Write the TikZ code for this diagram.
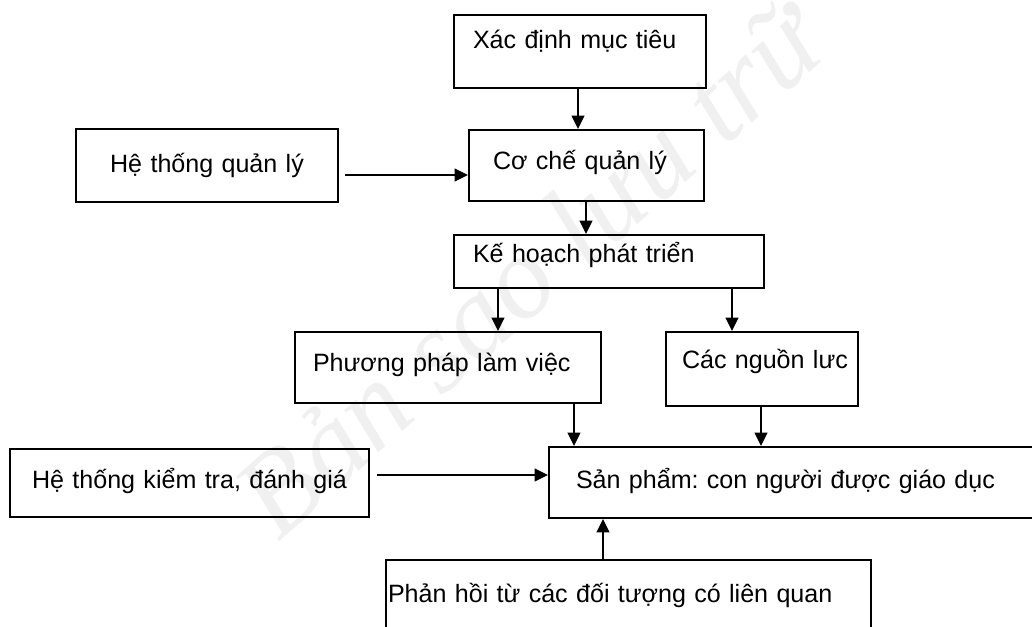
\documentclass[tikz,border=0pt]{standalone}
\usepackage{fontspec}
\setmainfont{Liberation Sans}
\newfontfamily\markfont{Liberation Serif}
\usepackage{tikz}
\usetikzlibrary{
    arrows.meta,
    positioning
}
\frenchspacing

\tikzset{
    box/.style={draw, line width=1.5pt, anchor=north west, inner sep=0pt,
        align=left, font=\fontsize{18.8pt}{22pt}\selectfont},
    pad/.style={execute at begin node={\hspace*{#1}}},
    arr/.style={line width=1.3pt, -{Triangle[length=10pt,width=9.5pt]}}
}

\begin{document}
\begin{tikzpicture}[x=0.75pt,y=-0.75pt]

\path[use as bounding box, clip] (0,0) rectangle (1032,626);
\fill[white] (0,0) rectangle (1032,626);

% watermark
\node[rotate=41.5, text=black!6, font=\markfont\itshape\fontsize{88pt}{90pt}\selectfont]
    (mark) at (528,268) {Bản sao lưu trữ};

% boxes
\node[box, pad=14.25pt, text width=189pt, text height=24.75pt, text depth=30pt]
    (goal) at (453,14) {Xác định mục tiêu};
\node[box, align=center, text width=196.5pt, text height=32.25pt, text depth=22.5pt]
    (hsys) at (75,128) {Hệ thống quản lý};
\node[box, pad=18pt, text width=176.25pt, text height=29.25pt, text depth=24pt]
    (mech) at (468,129) {Cơ chế quản lý};
\node[box, pad=14.25pt, text width=232.5pt, text height=20.25pt, text depth=19.5pt]
    (plan) at (453,234) {Kế hoạch phát triển};
\node[box, pad=13.5pt, text width=229.5pt, text height=29.25pt, text depth=24pt]
    (meth) at (294,331) {Phương pháp làm việc};
\node[box, pad=12pt, text width=144pt, text height=27pt, text depth=28.5pt]
    (res) at (665,331) {Các nguồn lưc};
\node[box, pad=20.25pt, text width=375pt, text height=30.75pt, text depth=22.5pt]
    (prod) at (548,446) {Sản phẩm: con người được giáo dục};
\node[box, align=center, text width=269.25pt, text height=29.25pt, text depth=21.75pt]
    (check) at (9,448) {Hệ thống kiểm tra, đánh giá};
\node[box, pad=1.5pt, text width=363.75pt, text height=31.5pt, text depth=45pt]
    (fb) at (385,559) {Phản hồi từ các đối tượng có liên quan};

% arrow columns and rows
\coordinate (xa) at (578,0);
\coordinate (xb) at (586,0);
\coordinate (xc) at (498,0);
\coordinate (xd) at (732,0);
\coordinate (xe) at (574,0);
\coordinate (xf) at (761,0);
\coordinate (xg) at (603,0);
\coordinate (ya) at (0,175);
\coordinate (yb) at (0,475);

% arrows
\foreach \a/\b/\c in {goal/mech/xa, mech/plan/xb, plan/meth/xc,
                      plan/res/xd, meth/prod/xe, res/prod/xf}{
    \draw[arr] (\a.south -| \c) -- (\b.north -| \c);
}
\draw[arr] (fb.north -| xg) -- (prod.south -| xg);
\draw[arr, shorten <=4.5pt] (hsys.east |- ya) -- (mech.west |- ya);
\draw[arr, shorten <=5pt] (check.east |- yb) -- (prod.west |- yb);

\end{tikzpicture}
\end{document}
